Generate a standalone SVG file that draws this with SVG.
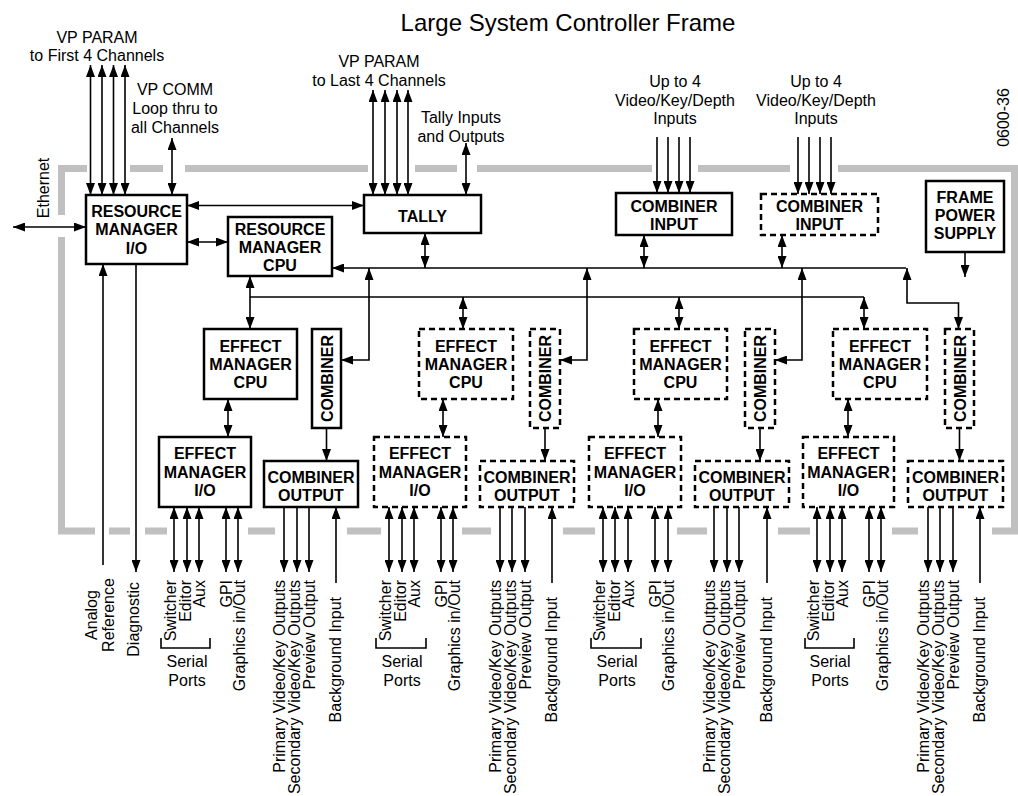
<svg xmlns="http://www.w3.org/2000/svg" width="1018" height="796" viewBox="0 0 1018 796">
<style>
.box{fill:#fff;stroke:#000;stroke-width:2.5}
.dbox{fill:#fff;stroke:#000;stroke-width:2.5;stroke-dasharray:6 4}
.lbl{font-family:"Liberation Sans",Arial,Helvetica,sans-serif;font-size:16px;font-weight:bold;text-anchor:middle;fill:#000}
.txt{font-family:"Liberation Sans",Arial,Helvetica,sans-serif;font-size:16px;text-anchor:middle;fill:#000}
.rt{font-family:"Liberation Sans",Arial,Helvetica,sans-serif;font-size:16px;text-anchor:end;fill:#000}
.gray{stroke:#c0c0c0;stroke-width:7;fill:none}
.ln{stroke:#000;stroke-width:1.6;fill:none}
.a2{marker-start:url(#ah);marker-end:url(#ah)}
.a1{marker-end:url(#ah)}
</style>
<defs>
<marker id="ah" viewBox="0 0 12 9" refX="12" refY="4.5" markerWidth="12" markerHeight="9" markerUnits="userSpaceOnUse" orient="auto-start-reverse"><path d="M0,0 L12,4.5 L0,9 z" fill="#000"/></marker>
</defs>
<rect width="1018" height="796" fill="#fff"/>
<g id="frame-border">
<path class="gray" d="M87,168.5 H61.5 V215"/>
<path class="gray" d="M61.5,237 V531 H95"/>
<path class="gray" d="M130,168.5 H163 M185,168.5 H368 M415,168.5 H457 M477,168.5 H652 M698,168.5 H790"/>
<path class="gray" d="M838,168.5 H1014.5 V531 H992"/>
<path class="gray" d="M109,531 H130 M145,531 H167 M248,531 H275 M347,531 H381 M462,531 H491 M563,531 H595 M677,531 H707 M778,531 H810 M892,531 H918"/>
</g>
<g id="labels">
<text class="txt" x="568" y="31" style="font-size:24px">Large System Controller Frame</text>
<text class="txt" x="97" y="43">VP PARAM</text>
<text class="txt" x="97" y="61">to First 4 Channels</text>
<text class="txt" x="175" y="95">VP COMM</text>
<text class="txt" x="175" y="114">Loop thru to</text>
<text class="txt" x="175" y="133">all Channels</text>
<text class="txt" x="379" y="67">VP PARAM</text>
<text class="txt" x="379" y="86">to Last 4 Channels</text>
<text class="txt" x="461" y="123">Tally Inputs</text>
<text class="txt" x="461" y="142">and Outputs</text>
<text class="txt" x="675" y="87">Up to 4</text>
<text class="txt" x="675" y="106">Video/Key/Depth</text>
<text class="txt" x="675" y="124">Inputs</text>
<text class="txt" x="816" y="87">Up to 4</text>
<text class="txt" x="816" y="106">Video/Key/Depth</text>
<text class="txt" x="816" y="124">Inputs</text>
<text class="txt" transform="translate(49,188) rotate(-90)">Ethernet</text>
<text class="txt" transform="translate(1009,117.5) rotate(-90)">0600-36</text>
<text class="txt" transform="translate(97,615) rotate(-90)">Analog</text>
<text class="txt" transform="translate(114,615) rotate(-90)">Reference</text>
<text class="rt" transform="translate(139,582) rotate(-90)">Diagnostic</text>
</g>
<g id="bottom-labels">
<g id="ports-1">
<text class="rt" transform="translate(176,580) rotate(-90)">Switcher</text>
<text class="rt" transform="translate(191,580) rotate(-90)">Editor</text>
<text class="rt" transform="translate(205,580) rotate(-90)">Aux</text>
<text class="rt" transform="translate(232,580) rotate(-90)">GPI</text>
<text class="rt" transform="translate(245,580) rotate(-90)">Graphics in/Out</text>
<text class="rt" transform="translate(285,580) rotate(-90)">Primary Video/Key Outputs</text>
<text class="rt" transform="translate(300,580) rotate(-90)">Secondary Video/Key Outputs</text>
<text class="rt" transform="translate(315,580) rotate(-90)">Preview Output</text>
<text class="rt" transform="translate(341,597) rotate(-90)">Background Input</text>
<path class="ln" d="M161,638 V648 H210 V638"/>
<text class="txt" x="187" y="667">Serial</text>
<text class="txt" x="187" y="686">Ports</text>
</g>
<g id="ports-2">
<text class="rt" transform="translate(391,580) rotate(-90)">Switcher</text>
<text class="rt" transform="translate(406,580) rotate(-90)">Editor</text>
<text class="rt" transform="translate(420,580) rotate(-90)">Aux</text>
<text class="rt" transform="translate(447,580) rotate(-90)">GPI</text>
<text class="rt" transform="translate(460,580) rotate(-90)">Graphics in/Out</text>
<text class="rt" transform="translate(501,580) rotate(-90)">Primary Video/Key Outputs</text>
<text class="rt" transform="translate(516,580) rotate(-90)">Secondary Video/Key Outputs</text>
<text class="rt" transform="translate(531,580) rotate(-90)">Preview Output</text>
<text class="rt" transform="translate(557,597) rotate(-90)">Background Input</text>
<path class="ln" d="M376,638 V648 H426 V638"/>
<text class="txt" x="402" y="667">Serial</text>
<text class="txt" x="402" y="686">Ports</text>
</g>
<g id="ports-3">
<text class="rt" transform="translate(605,580) rotate(-90)">Switcher</text>
<text class="rt" transform="translate(620,580) rotate(-90)">Editor</text>
<text class="rt" transform="translate(634,580) rotate(-90)">Aux</text>
<text class="rt" transform="translate(661,580) rotate(-90)">GPI</text>
<text class="rt" transform="translate(674,580) rotate(-90)">Graphics in/Out</text>
<text class="rt" transform="translate(715,580) rotate(-90)">Primary Video/Key Outputs</text>
<text class="rt" transform="translate(730,580) rotate(-90)">Secondary Video/Key Outputs</text>
<text class="rt" transform="translate(745,580) rotate(-90)">Preview Output</text>
<text class="rt" transform="translate(772,597) rotate(-90)">Background Input</text>
<path class="ln" d="M591,638 V648 H641 V638"/>
<text class="txt" x="617" y="667">Serial</text>
<text class="txt" x="617" y="686">Ports</text>
</g>
<g id="ports-4">
<text class="rt" transform="translate(819,580) rotate(-90)">Switcher</text>
<text class="rt" transform="translate(834,580) rotate(-90)">Editor</text>
<text class="rt" transform="translate(848,580) rotate(-90)">Aux</text>
<text class="rt" transform="translate(875,580) rotate(-90)">GPI</text>
<text class="rt" transform="translate(888,580) rotate(-90)">Graphics in/Out</text>
<text class="rt" transform="translate(929,580) rotate(-90)">Primary Video/Key Outputs</text>
<text class="rt" transform="translate(944,580) rotate(-90)">Secondary Video/Key Outputs</text>
<text class="rt" transform="translate(959,580) rotate(-90)">Preview Output</text>
<text class="rt" transform="translate(985,597) rotate(-90)">Background Input</text>
<path class="ln" d="M805,638 V648 H854 V638"/>
<text class="txt" x="830" y="667">Serial</text>
<text class="txt" x="830" y="686">Ports</text>
</g>
</g>
<g id="connectors">
<path class="ln a2" d="M13,227 H86"/>
<path class="ln a2" d="M90.5,65 V195"/>
<path class="ln a2" d="M102,65 V195"/>
<path class="ln a2" d="M113.5,65 V195"/>
<path class="ln a2" d="M125,65 V195"/>
<path class="ln a2" d="M172,138 V195"/>
<path class="ln a2" d="M187,205.5 H364"/>
<path class="ln a2" d="M187,242 H228"/>
<path class="ln a2" d="M373,90 V195"/>
<path class="ln a2" d="M385,90 V195"/>
<path class="ln a2" d="M397,90 V195"/>
<path class="ln a2" d="M408,90 V195"/>
<path class="ln a2" d="M466,143 V195"/>
<path class="ln a2" d="M425,233 V268"/>
<path class="ln a1" d="M657,137 V193"/>
<path class="ln a1" d="M668,137 V193"/>
<path class="ln a1" d="M679,137 V193"/>
<path class="ln a1" d="M690,137 V193"/>
<path class="ln a1" d="M798,137 V194"/>
<path class="ln a1" d="M809,137 V194"/>
<path class="ln a1" d="M820,137 V194"/>
<path class="ln a1" d="M831,137 V194"/>
<path class="ln a2" d="M644,235 V268"/>
<path class="ln a2" d="M782,235 V268"/>
<path class="ln a1" d="M906,268 H332"/>
<path class="ln a2" d="M907,268 V303 H958.5 V329"/>
<path class="ln a2" d="M369,268 V360 H341"/>
<path class="ln a2" d="M587,268 V360 H560"/>
<path class="ln a2" d="M802,268 V360 H775"/>
<path class="ln a2" d="M250,276 V329"/>
<path class="ln" d="M250,297 H864"/>
<path class="ln a2" d="M463,297 V329"/>
<path class="ln a2" d="M679,297 V329"/>
<path class="ln a2" d="M864,297 V329"/>
<path class="ln a2" d="M228,399 V437"/>
<path class="ln a2" d="M443,399 V437"/>
<path class="ln a2" d="M658,399 V437"/>
<path class="ln a2" d="M848,399 V437"/>
<path class="ln a1" d="M326.5,428 V461"/>
<path class="ln a1" d="M545,428 V461"/>
<path class="ln a1" d="M760,428 V461"/>
<path class="ln a1" d="M959.5,428 V461"/>
<path class="ln a1" d="M965,252 V277"/>
<path class="ln a1" d="M103,565 V264"/>
<path class="ln a1" d="M136,264 V572"/>
<path class="ln a2" d="M174,507 V572"/><path class="ln a2" d="M187,507 V572"/><path class="ln a2" d="M199,507 V572"/>
<path class="ln a2" d="M226,507 V572"/><path class="ln a2" d="M238,507 V572"/>
<path class="ln a1" d="M284,507 V572"/><path class="ln a1" d="M297,507 V572"/><path class="ln a1" d="M309,507 V572"/>
<path class="ln a1" d="M336,583 V507"/>
<path class="ln a2" d="M389,507 V572"/><path class="ln a2" d="M402,507 V572"/><path class="ln a2" d="M414,507 V572"/>
<path class="ln a2" d="M441,507 V572"/><path class="ln a2" d="M453,507 V572"/>
<path class="ln a1" d="M500,507 V572"/><path class="ln a1" d="M512,507 V572"/><path class="ln a1" d="M525,507 V572"/>
<path class="ln a1" d="M552,583 V507"/>
<path class="ln a2" d="M603,507 V572"/><path class="ln a2" d="M615,507 V572"/><path class="ln a2" d="M628,507 V572"/>
<path class="ln a2" d="M655,507 V572"/><path class="ln a2" d="M668,507 V572"/>
<path class="ln a1" d="M714,507 V572"/><path class="ln a1" d="M727,507 V572"/><path class="ln a1" d="M739,507 V572"/>
<path class="ln a1" d="M767,583 V507"/>
<path class="ln a2" d="M817,507 V572"/><path class="ln a2" d="M830,507 V572"/><path class="ln a2" d="M842,507 V572"/>
<path class="ln a2" d="M869,507 V572"/><path class="ln a2" d="M881,507 V572"/>
<path class="ln a1" d="M928,507 V572"/><path class="ln a1" d="M940,507 V572"/><path class="ln a1" d="M953,507 V572"/>
<path class="ln a1" d="M980,583 V507"/>
</g>
<g id="rm-io"><rect class="box" x="86" y="195" width="101" height="69"/>
<text class="lbl" x="136.5" y="217">RESOURCE</text><text class="lbl" x="136.5" y="235">MANAGER</text><text class="lbl" x="136.5" y="254">I/O</text></g>
<g id="rm-cpu"><rect class="box" x="228" y="217" width="104" height="59"/>
<text class="lbl" x="280" y="235">RESOURCE</text><text class="lbl" x="280" y="253">MANAGER</text><text class="lbl" x="280" y="271">CPU</text></g>
<g id="tally"><rect class="box" x="364" y="195" width="117" height="38"/>
<text class="lbl" x="422.5" y="222">TALLY</text></g>
<g id="combiner-input-1"><rect class="box" x="616" y="193" width="116" height="42"/>
<text class="lbl" x="674" y="212">COMBINER</text><text class="lbl" x="674" y="230">INPUT</text></g>
<g id="combiner-input-2"><rect class="dbox" x="761" y="194" width="117" height="41"/>
<text class="lbl" x="819.5" y="212">COMBINER</text><text class="lbl" x="819.5" y="230">INPUT</text></g>
<g id="frame-power-supply"><rect class="box" x="926" y="181" width="78" height="71"/>
<text class="lbl" x="965" y="203">FRAME</text><text class="lbl" x="965" y="221">POWER</text><text class="lbl" x="965" y="239">SUPPLY</text></g>
<g id="em-cpu-1"><rect class="box" x="204" y="329" width="93" height="70"/>
<text class="lbl" x="250.5" y="352">EFFECT</text><text class="lbl" x="250.5" y="370">MANAGER</text><text class="lbl" x="250.5" y="388">CPU</text></g>
<g id="em-cpu-2"><rect class="dbox" x="419" y="329" width="94" height="70"/>
<text class="lbl" x="466" y="352">EFFECT</text><text class="lbl" x="466" y="370">MANAGER</text><text class="lbl" x="466" y="388">CPU</text></g>
<g id="em-cpu-3"><rect class="dbox" x="634" y="329" width="93" height="70"/>
<text class="lbl" x="680.5" y="352">EFFECT</text><text class="lbl" x="680.5" y="370">MANAGER</text><text class="lbl" x="680.5" y="388">CPU</text></g>
<g id="em-cpu-4"><rect class="dbox" x="833" y="329" width="94" height="70"/>
<text class="lbl" x="880" y="352">EFFECT</text><text class="lbl" x="880" y="370">MANAGER</text><text class="lbl" x="880" y="388">CPU</text></g>
<g id="combiner-1"><rect class="box" x="312" y="329" width="29" height="99"/>
<text class="lbl" transform="translate(332.5,378.5) rotate(-90)">COMBINER</text></g>
<g id="combiner-2"><rect class="dbox" x="530" y="329" width="30" height="99"/>
<text class="lbl" transform="translate(551,378.5) rotate(-90)">COMBINER</text></g>
<g id="combiner-3"><rect class="dbox" x="745" y="329" width="30" height="99"/>
<text class="lbl" transform="translate(766,378.5) rotate(-90)">COMBINER</text></g>
<g id="combiner-4"><rect class="dbox" x="945" y="329" width="29" height="99"/>
<text class="lbl" transform="translate(965.5,378.5) rotate(-90)">COMBINER</text></g>
<g id="em-io-1"><rect class="box" x="159" y="437" width="92" height="70"/>
<text class="lbl" x="205" y="459">EFFECT</text><text class="lbl" x="205" y="478">MANAGER</text><text class="lbl" x="205" y="496">I/O</text></g>
<g id="em-io-2"><rect class="dbox" x="374" y="437" width="92" height="70"/>
<text class="lbl" x="420" y="459">EFFECT</text><text class="lbl" x="420" y="478">MANAGER</text><text class="lbl" x="420" y="496">I/O</text></g>
<g id="em-io-3"><rect class="dbox" x="589" y="437" width="92" height="70"/>
<text class="lbl" x="635" y="459">EFFECT</text><text class="lbl" x="635" y="478">MANAGER</text><text class="lbl" x="635" y="496">I/O</text></g>
<g id="em-io-4"><rect class="dbox" x="803" y="437" width="91" height="70"/>
<text class="lbl" x="848.5" y="459">EFFECT</text><text class="lbl" x="848.5" y="478">MANAGER</text><text class="lbl" x="848.5" y="496">I/O</text></g>
<g id="combiner-output-1"><rect class="box" x="264" y="461" width="94" height="46"/>
<text class="lbl" x="311" y="483">COMBINER</text><text class="lbl" x="311" y="501">OUTPUT</text></g>
<g id="combiner-output-2"><rect class="dbox" x="480" y="461" width="94" height="46"/>
<text class="lbl" x="527" y="483">COMBINER</text><text class="lbl" x="527" y="501">OUTPUT</text></g>
<g id="combiner-output-3"><rect class="dbox" x="695" y="461" width="94" height="46"/>
<text class="lbl" x="742" y="483">COMBINER</text><text class="lbl" x="742" y="501">OUTPUT</text></g>
<g id="combiner-output-4"><rect class="dbox" x="908" y="461" width="95" height="46"/>
<text class="lbl" x="955.5" y="483">COMBINER</text><text class="lbl" x="955.5" y="501">OUTPUT</text></g>
</svg>
